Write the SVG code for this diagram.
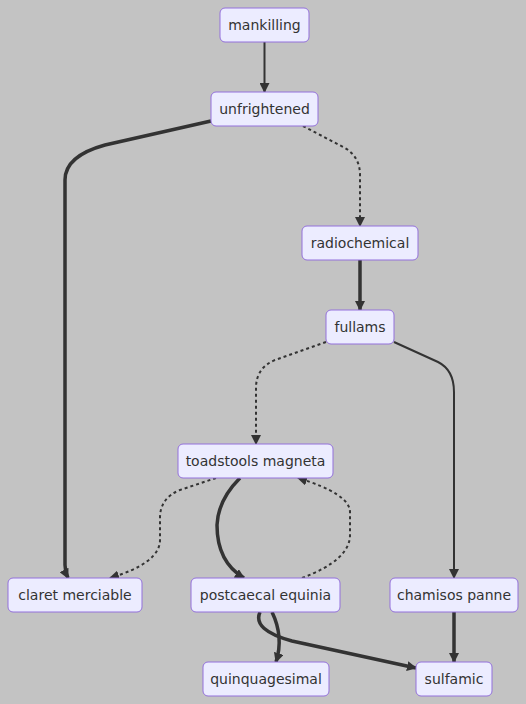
<svg xmlns="http://www.w3.org/2000/svg" width="526" height="704" viewBox="0 0 526 704">
<defs>
<marker id="arr" viewBox="0 0 10 10" refX="9" refY="5" markerWidth="10" markerHeight="10" markerUnits="userSpaceOnUse" orient="auto"><path d="M0,0 L10,5 L0,10 z" fill="#333"/></marker>
</defs>
<style>
.node rect{fill:#ECECFF;stroke:#9370DB;stroke-width:1}
.node text{font-family:"DejaVu Sans",Verdana,sans-serif;font-size:14px;fill:#333;text-anchor:middle;dominant-baseline:central}
.e{fill:none;stroke:#333;stroke-width:2;marker-end:url(#arr)}
.t{stroke-width:3.5}
.d{stroke-dasharray:3 3}
</style>
<rect width="526" height="704" fill="#c3c3c3"/>
<g id="edges">
<path class="e" d="M264.5,42 L264.5,92"/>
<path class="e t" d="M211,121 L105,145 Q65,156 65,180 L65,565 Q65,572 68,578"/>
<path class="e d" d="M303,126 L345,148 Q360,157 360,175 L360,226"/>
<path class="e t" d="M360,260 L360,310"/>
<path class="e d" d="M326,342 L275,360 Q256,368 256,388 L256,444"/>
<path class="e" d="M394,342 L438,362 Q454,370 454,392 L454,578"/>
<path class="e d" d="M216,478 L180,490 Q160,498 160,518 L160,540 Q160,563 110,578"/>
<path class="e t" d="M240,478 Q218,500 217,525 Q217,562 244,578"/>
<path class="e d" d="M302,578 Q350,560 350,535 L350,512 Q350,494 298,478"/>
<path class="e t" d="M272,612 Q284,637 276,662"/>
<path class="e t" d="M260,612 Q252,630 292,641 L416,668"/>
<path class="e t" d="M454,612 L454,662"/>
</g>
<g id="mankilling" class="node"><rect x="220" y="8" width="89" height="34" rx="5"/><text x="264.5" y="25">mankilling</text></g>
<g id="unfrightened" class="node"><rect x="211" y="92" width="107" height="34" rx="5"/><text x="264.5" y="109">unfrightened</text></g>
<g id="radiochemical" class="node"><rect x="302" y="226" width="116" height="34" rx="5"/><text x="360" y="243">radiochemical</text></g>
<g id="fullams" class="node"><rect x="326" y="310" width="68" height="34" rx="5"/><text x="360" y="327">fullams</text></g>
<g id="toadstools" class="node"><rect x="178" y="444" width="155" height="34" rx="5"/><text x="255.5" y="461">toadstools magneta</text></g>
<g id="claret" class="node"><rect x="8" y="578" width="134" height="34" rx="5"/><text x="75" y="595">claret merciable</text></g>
<g id="postcaecal" class="node"><rect x="191" y="578" width="149" height="34" rx="5"/><text x="265.5" y="595">postcaecal equinia</text></g>
<g id="chamisos" class="node"><rect x="390" y="578" width="128" height="34" rx="5"/><text x="454" y="595">chamisos panne</text></g>
<g id="quinquagesimal" class="node"><rect x="203" y="662" width="126" height="34" rx="5"/><text x="266" y="679">quinquagesimal</text></g>
<g id="sulfamic" class="node"><rect x="416" y="662" width="76" height="34" rx="5"/><text x="454" y="679">sulfamic</text></g>
</svg>
